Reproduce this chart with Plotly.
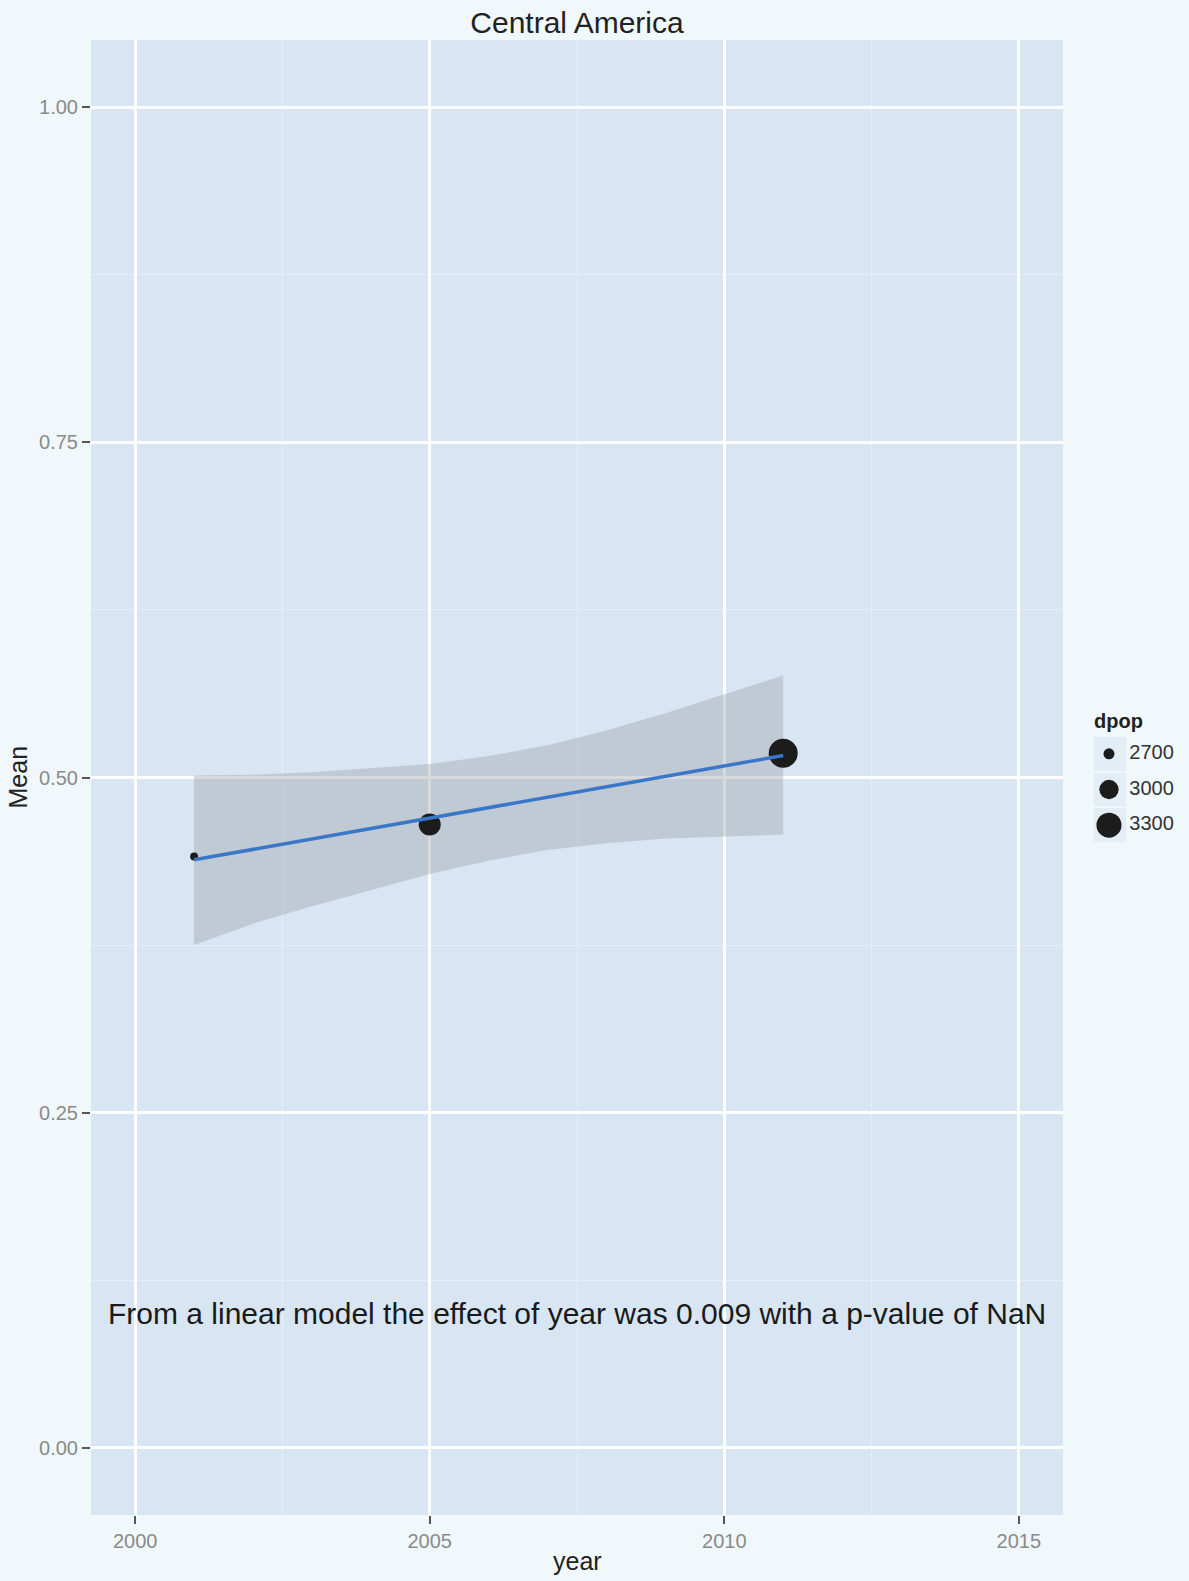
import math
import plotly.graph_objects as go

# ---- data ----
years = [2001, 2005, 2011]
means = [0.441, 0.465, 0.518]
dpop = [2632, 3132, 3557]

fit_years = [2001, 2011]
fit_vals = [0.4386, 0.5164]

band_years = [2001, 2002, 2003, 2004, 2005, 2006, 2007, 2008, 2009, 2010, 2011]
band_lower = [0.375, 0.391, 0.404, 0.416, 0.428, 0.438, 0.446, 0.451, 0.4545, 0.456, 0.4575]
band_upper = [0.5015, 0.502, 0.504, 0.507, 0.510, 0.516, 0.524, 0.535, 0.548, 0.562, 0.576]

legend_breaks = [2700, 3000, 3300]
x_ticks = [2000, 2005, 2010, 2015]
y_ticks = [0.00, 0.25, 0.50, 0.75, 1.00]

title_text = "Central America"
note_text = "From a linear model the effect of year was 0.009 with a p-value of NaN"
note_pos = (2007.5, 0.10)

# ---- style ----
FONT = "Liberation Sans, Arial, sans-serif"
OUTER_BG = "#F1F8FC"
PANEL_BG = "#D7E6F2"
KEY_BG = "#E3EDF6"
POINT_COL = "#1C1C1C"
LINE_COL = "#3B77C9"
RIBBON_COL = "rgba(157,160,170,0.4)"

W, H = 1189, 1581
px_l, px_r, px_t, px_b = 91, 1063, 40, 1515


def size_px(d):
    # area scale for dpop -> marker diameter in pixels
    return math.sqrt(0.84 * (d - 2556))


fig = go.Figure()

# confidence ribbon
fig.add_trace(go.Scatter(
    x=band_years + band_years[::-1], y=band_upper + band_lower[::-1],
    fill="toself", fillcolor=RIBBON_COL, mode="lines", line=dict(width=0),
    showlegend=False, hoverinfo="skip"))

# points
fig.add_trace(go.Scatter(
    x=years, y=means, mode="markers",
    marker=dict(size=[size_px(d) for d in dpop], color=POINT_COL, opacity=1,
                line=dict(width=0)),
    showlegend=False, hoverinfo="skip"))

# fitted line
fig.add_trace(go.Scatter(
    x=fit_years, y=fit_vals, mode="lines",
    line=dict(color=LINE_COL, width=3.5),
    showlegend=False, hoverinfo="skip"))

# legend keys (drawn on a small auxiliary axis pair)
idx = list(range(len(legend_breaks)))
fig.add_trace(go.Scatter(
    x=[0.276] * len(legend_breaks), y=idx, mode="markers",
    marker=dict(size=[size_px(d) for d in legend_breaks], color=POINT_COL, opacity=1,
                line=dict(width=0)),
    xaxis="x2", yaxis="y2", showlegend=False, hoverinfo="skip"))
fig.add_trace(go.Scatter(
    x=[0.47] * len(legend_breaks), y=idx, mode="text",
    text=[str(b) for b in legend_breaks], textposition="middle right",
    textfont=dict(family=FONT, size=20, color="#333333"),
    xaxis="x2", yaxis="y2", showlegend=False, hoverinfo="skip"))

shapes = [dict(type="rect", xref="x domain", yref="y domain", x0=0, x1=1, y0=0, y1=1,
               fillcolor=PANEL_BG, line=dict(width=0), layer="below")]
for i in idx:
    shapes.append(dict(type="rect", xref="x2", yref="y2",
                       x0=0.13, x1=0.44, y0=i - 0.48, y1=i + 0.48,
                       fillcolor=KEY_BG, line=dict(width=0), layer="below"))

xdom = [px_l / W, px_r / W]
ydom = [1 - px_b / H, 1 - px_t / H]

fig.update_layout(
    width=W, height=H,
    margin=dict(l=0, r=0, t=0, b=0),
    paper_bgcolor=OUTER_BG,
    plot_bgcolor="rgba(0,0,0,0)",
    font=dict(family=FONT, color="#222222"),
    showlegend=False,
    title=dict(text=title_text, x=(px_l + px_r) / 2 / W, xanchor="center",
               y=1 - 22 / H, yanchor="middle",
               font=dict(family=FONT, size=30, color="#222222")),
    xaxis=dict(domain=xdom, range=[1999.25, 2015.75], tickvals=x_ticks,
               ticktext=[str(t) for t in x_ticks],
               showgrid=True, gridcolor="#FFFFFF", gridwidth=2.5,
               minor=dict(tickvals=[2002.5, 2007.5, 2012.5], showgrid=True,
                          gridcolor="#E6EFF7", gridwidth=1.2, ticks=""),
               zeroline=False, showline=False,
               ticks="outside", ticklen=8, tickwidth=2, tickcolor="#555555",
               tickfont=dict(family=FONT, size=20, color="#8A8A8A"),
               automargin=False, fixedrange=True),
    yaxis=dict(domain=ydom, range=[-0.05, 1.05], tickvals=y_ticks,
               ticktext=[f"{t:.2f}" for t in y_ticks],
               showgrid=True, gridcolor="#FFFFFF", gridwidth=2.5,
               minor=dict(tickvals=[0.125, 0.375, 0.625, 0.875], showgrid=True,
                          gridcolor="#E6EFF7", gridwidth=1.2, ticks=""),
               zeroline=False, showline=False,
               ticks="outside", ticklen=8, tickwidth=2, tickcolor="#555555",
               tickfont=dict(family=FONT, size=20, color="#8A8A8A"),
               automargin=False, fixedrange=True),
    xaxis2=dict(domain=[1080 / W, 1185 / W], range=[0, 1], anchor="y2",
                visible=False, fixedrange=True),
    yaxis2=dict(domain=[1 - 843 / H, 1 - 736 / H], range=[2.5, -0.5], anchor="x2",
                visible=False, fixedrange=True),
    shapes=shapes,
    annotations=[
        dict(text=note_text, x=note_pos[0], y=note_pos[1], xref="x", yref="y",
             showarrow=False, xanchor="center", yanchor="middle",
             font=dict(family=FONT, size=30, color="#1A1A1A")),
        dict(text="year", x=(px_l + px_r) / 2 / W, y=1 - 1561 / H, xref="paper", yref="paper",
             showarrow=False, xanchor="center", yanchor="middle",
             font=dict(family=FONT, size=25, color="#222222")),
        dict(text="Mean", x=18 / W, y=1 - (px_t + px_b) / 2 / H, xref="paper", yref="paper",
             showarrow=False, xanchor="center", yanchor="middle", textangle=-90,
             font=dict(family=FONT, size=25, color="#222222")),
        dict(text="<b>dpop</b>", x=1092 / W, y=1 - 721 / H, xref="paper", yref="paper",
             showarrow=False, xanchor="left", yanchor="middle",
             font=dict(family=FONT, size=20, color="#222222")),
    ],
)

fig.write_html("out.html", config={"displayModeBar": False},
               post_script="document.body.style.margin='0';")
